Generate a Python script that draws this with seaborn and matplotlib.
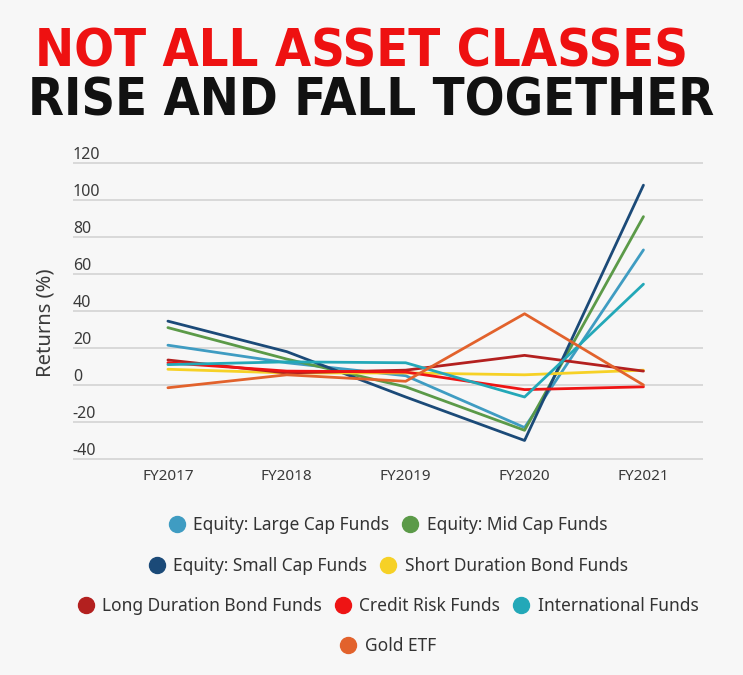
import matplotlib
matplotlib.use("Agg")
import matplotlib.pyplot as plt
from matplotlib.lines import Line2D
import seaborn as sns
import pandas as pd

years = ["FY2017", "FY2018", "FY2019", "FY2020", "FY2021"]
large_cap = [21.5, 12, 5, -23, 73]
mid_cap = [31, 14, -1, -24.5, 91]
small_cap = [34.5, 18, -6.5, -30, 108]
short_dur = [8.5, 6.5, 6.5, 5.5, 8]
long_dur = [13.5, 6.5, 8, 16, 7.5]
credit_risk = [12, 7.5, 7, -2.5, -1]
international = [11, 12.5, 12, -6.5, 54.5]
gold_etf = [-1.5, 5.5, 2, 38.5, 0]

names = ["Equity: Large Cap Funds", "Equity: Mid Cap Funds", "Equity: Small Cap Funds",
         "Short Duration Bond Funds", "Long Duration Bond Funds", "Credit Risk Funds",
         "International Funds", "Gold ETF"]
series = [large_cap, mid_cap, small_cap, short_dur, long_dur, credit_risk, international, gold_etf]
colors = ["#3f9cc2", "#5b9a48", "#1b4a78", "#f6d126", "#b3201f", "#ee1414", "#23a8b8", "#e2622c"]
yticks = [-40, -20, 0, 20, 40, 60, 80, 100, 120]

rows = []
for n, vals in zip(names, series):
    for y, v in zip(years, vals):
        rows.append({"Year": y, "Fund": n, "Return": v})
df = pd.DataFrame(rows)
palette = dict(zip(names, colors))

sns.set_theme(style="white")
plt.rcParams["font.family"] = ["Noto Sans", "DejaVu Sans"]

fig = plt.figure(figsize=(7.43, 6.75), dpi=100, facecolor="#f7f7f7")
ax = fig.add_axes([0.098, 0.3173, 0.848, 0.444])
ax.set_facecolor("none")

sns.lineplot(data=df, x="Year", y="Return", hue="Fund", palette=palette,
             hue_order=names, sort=False, linewidth=2.0, legend=False, ax=ax)

ax.set_xlim(-0.8, 4.5)
ax.set_ylim(-41, 121)
ax.set_yticks(yticks)
ax.set_yticklabels([str(t) for t in yticks])
for s in ax.spines.values():
    s.set_visible(False)
ax.grid(axis="y", color="#d4d4d4", linewidth=1.2)
ax.grid(axis="x", visible=False)
ax.set_axisbelow(True)
ax.tick_params(axis="y", length=0, pad=0, labelsize=11.5, labelcolor="#3a3a3a")
ax.tick_params(axis="x", length=0, pad=6, labelsize=11, labelcolor="#3a3a3a")
for lab in ax.get_yticklabels():
    lab.set_horizontalalignment("left")
    lab.set_verticalalignment("bottom")
for lab in ax.get_xticklabels():
    lab.set_fontweight("semibold")
ax.set_xlabel("")
ax.set_ylabel("Returns (%)", fontsize=14.5, color="#3a3a3a")
ax.yaxis.set_label_coords(-0.027, 0.46)

title_family = ["DejaVu Sans", "Noto Sans"]
fig.text(0.487, 0.902, "NOT ALL ASSET CLASSES", color="#ee1111", fontsize=37.5,
         fontweight="bold", family=title_family, fontstretch="condensed",
         ha="center", va="baseline")
fig.text(0.500, 0.829, "RISE AND FALL TOGETHER", color="#111111", fontsize=37.5,
         fontweight="bold", family=title_family, fontstretch="condensed",
         ha="center", va="baseline")

groups = [[0, 1], [2, 3], [4, 5, 6], [7]]
ypos = [0.222, 0.161, 0.102, 0.043]
for g, yy in zip(groups, ypos):
    handles = [Line2D([], [], marker="o", linestyle="none", markersize=11.5,
                      markerfacecolor=colors[i], markeredgecolor=colors[i]) for i in g]
    fig.legend(handles, [names[i] for i in g], loc="center",
               bbox_to_anchor=(0.522, yy), ncol=len(g), frameon=False,
               fontsize=12.5, handletextpad=0.45, columnspacing=0.7,
               handlelength=1.0, labelcolor="#333333")

fig.savefig("out.png", dpi=100, facecolor=fig.get_facecolor())
